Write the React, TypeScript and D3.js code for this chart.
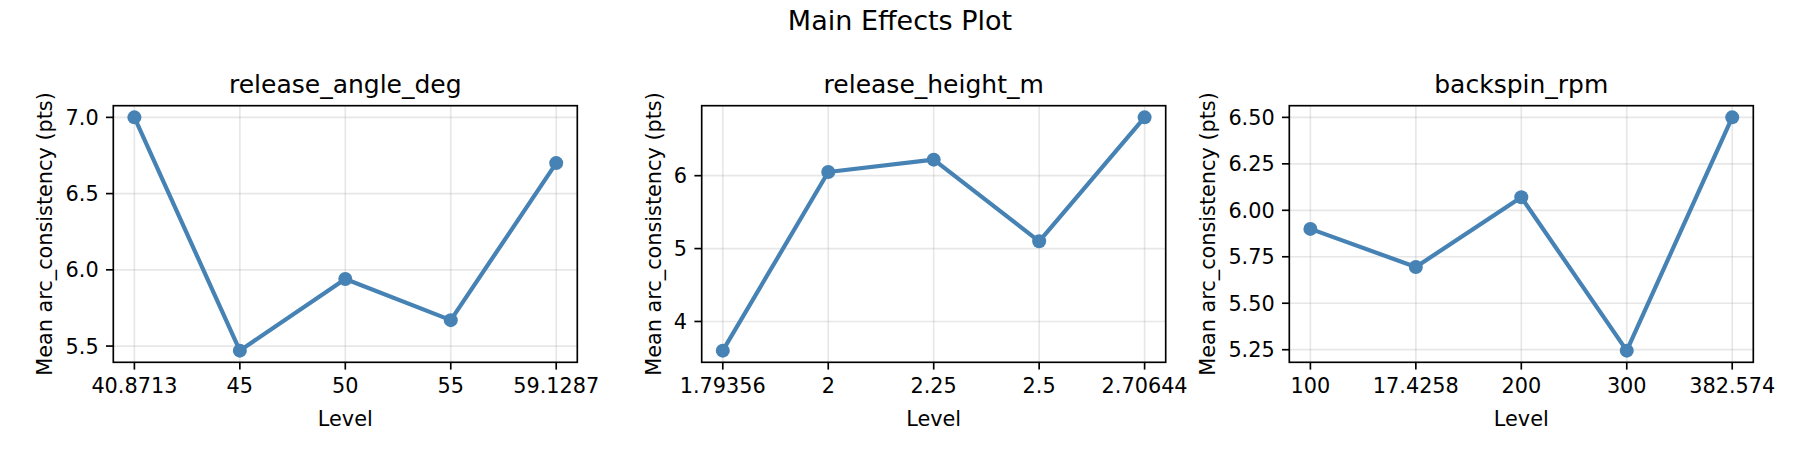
import React from 'react';
import * as d3 from 'd3';

const figureTitle = "Main Effects Plot";
const yLabel = "Mean arc_consistency (pts)";
const xLabel = "Level";

const angleLevels = ["40.8713", "45", "50", "55", "59.1287"];
const angleMeans = [7.0, 5.47, 5.94, 5.67, 6.70];
const angleTicks = [5.5, 6.0, 6.5, 7.0];

const heightLevels = ["1.79356", "2", "2.25", "2.5", "2.70644"];
const heightMeans = [3.60, 6.05, 6.22, 5.10, 6.80];
const heightTicks = [4, 5, 6];

const spinLevels = ["100", "17.4258", "200", "300", "382.574"];
const spinMeans = [5.90, 5.695, 6.07, 5.245, 6.50];
const spinTicks = [5.25, 5.5, 5.75, 6.0, 6.25, 6.5];

const W = 1800;
const H = 450;
const FONT = "DejaVu Sans, sans-serif";
const COLOR = "#4682b4";

// axes boxes (matplotlib at 150 dpi)
const axTop = 105.7;
const axBottom = 362.3;
const axWidth = 464;
const axLefts = [113.3, 701.7, 1289.3];

const tickLen = 7.3;
const tickPad = 7.3;
const tickFont = 20.8;

const panels = [
  { title: "release_angle_deg", levels: angleLevels, means: angleMeans, ticks: angleTicks, fmt: ".1f" },
  { title: "release_height_m", levels: heightLevels, means: heightMeans, ticks: heightTicks, fmt: "d" },
  { title: "backspin_rpm", levels: spinLevels, means: spinMeans, ticks: spinTicks, fmt: ".2f" },
];

// rough DejaVu Sans width of numeric labels, in px
const textWidth = (s: string, size: number) =>
  s.split("").reduce((w, c) => w + (c === "." ? 0.318 : 0.636), 0) * size;

function Panel({ p, left }: { p: typeof panels[0]; left: number }) {
  const right = left + axWidth;
  const x = d3.scalePoint<string>().domain(p.levels).range([left, right]).padding(0.2);
  const [lo, hi] = d3.extent(p.means) as [number, number];
  const m = (hi - lo) * 0.05;
  const y = d3.scaleLinear().domain([lo - m, hi + m]).range([axBottom, axTop]);
  const fmt = d3.format(p.fmt);
  const pts = p.levels.map((l, i) => [x(l) as number, y(p.means[i])] as [number, number]);
  const line = d3.line()(pts) as string;
  const maxTickW = d3.max(p.ticks, t => textWidth(fmt(t), tickFont)) as number;
  const yLabelX = left - tickLen - tickPad - maxTickW - 8.3 - 5;
  const cx = (left + right) / 2;

  return (
    <g>
      {/* grid */}
      {p.levels.map(l => (
        <line key={"gx" + l} x1={x(l)} x2={x(l)} y1={axTop} y2={axBottom}
          stroke="#b0b0b0" strokeOpacity={0.3} strokeWidth={1.67} />
      ))}
      {p.ticks.map(t => (
        <line key={"gy" + t} x1={left} x2={right} y1={y(t)} y2={y(t)}
          stroke="#b0b0b0" strokeOpacity={0.3} strokeWidth={1.67} />
      ))}

      <path d={line} fill="none" stroke={COLOR} strokeWidth={4.2} strokeLinejoin="round" />
      {pts.map((d, i) => (
        <circle key={i} cx={d[0]} cy={d[1]} r={7} fill={COLOR} />
      ))}

      <rect x={left} y={axTop} width={axWidth} height={axBottom - axTop}
        fill="none" stroke="#000" strokeWidth={1.67} />

      {/* x ticks */}
      {p.levels.map(l => (
        <g key={"xt" + l}>
          <line x1={x(l)} x2={x(l)} y1={axBottom} y2={axBottom + tickLen} stroke="#000" strokeWidth={1.67} />
          <text x={x(l)} y={axBottom + tickLen + tickPad + 0.76 * tickFont} textAnchor="middle"
            fontSize={tickFont} fontFamily={FONT}>{l}</text>
        </g>
      ))}
      {/* y ticks */}
      {p.ticks.map(t => (
        <g key={"yt" + t}>
          <line x1={left - tickLen} x2={left} y1={y(t)} y2={y(t)} stroke="#000" strokeWidth={1.67} />
          <text x={left - tickLen - tickPad} y={y(t) + 0.36 * tickFont} textAnchor="end"
            fontSize={tickFont} fontFamily={FONT}>{fmt(t)}</text>
        </g>
      ))}

      <text x={cx} y={axTop - 12.5} textAnchor="middle" fontSize={25} fontFamily={FONT}>{p.title}</text>
      <text x={cx} y={425.5} textAnchor="middle" fontSize={tickFont} fontFamily={FONT}>{xLabel}</text>
      <text transform={`translate(${yLabelX},${(axTop + axBottom) / 2}) rotate(-90)`} textAnchor="middle"
        fontSize={tickFont} fontFamily={FONT}>{yLabel}</text>
    </g>
  );
}

export default function App() {
  return (
    <>
      <style>{`body{margin:0}`}</style>
      <svg width={W} height={H} style={{ display: "block", background: "#fff" }}>
        <rect width={W} height={H} fill="#fff" />
        <text x={W / 2} y={29.5} textAnchor="middle" fontSize={27} fontFamily={FONT}>{figureTitle}</text>
        {panels.map((p, i) => (
          <Panel key={p.title} p={p} left={axLefts[i]} />
        ))}
      </svg>
    </>
  );
}
